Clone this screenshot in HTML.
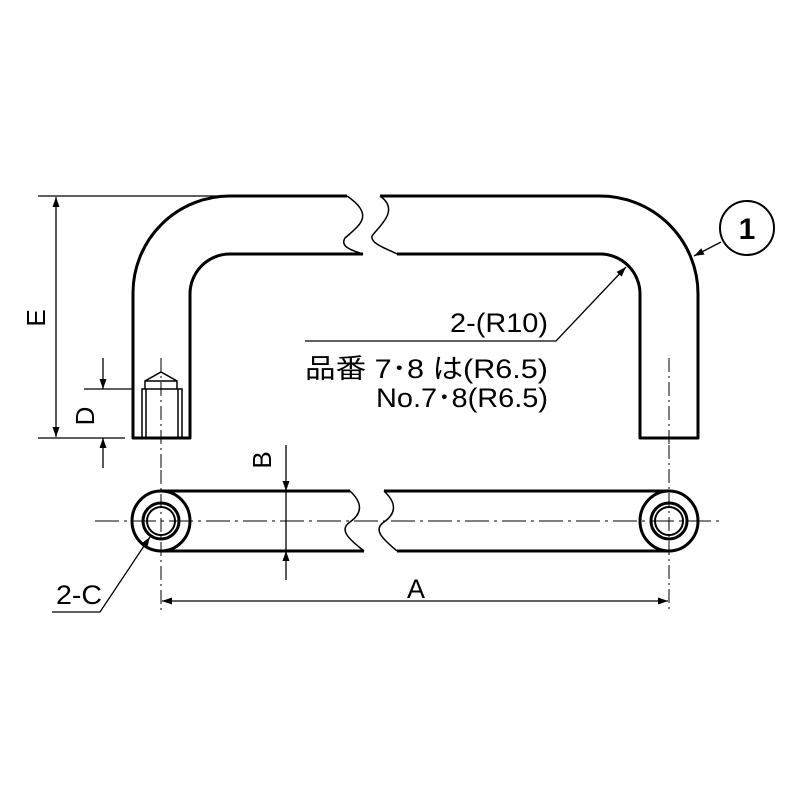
<!DOCTYPE html>
<html><head><meta charset="utf-8"><style>html,body{margin:0;padding:0;background:#fff}</style></head>
<body>
<svg width="800" height="800" viewBox="0 0 800 800" xmlns="http://www.w3.org/2000/svg" font-family="'Liberation Sans','Noto Sans CJK JP',sans-serif">
<defs>
<marker id="ar" viewBox="0 0 10 10" refX="10" refY="5" markerWidth="16" markerHeight="10" markerUnits="userSpaceOnUse" orient="auto-start-reverse"><path d="M0,1.5 L10,5 L0,8.5 Z" fill="#000"/></marker>
</defs>
<g fill="none" stroke="#000" stroke-width="3" stroke-linejoin="round">
<path d="M347,196 L230,196 A97,97 0 0 0 133,293 L133,438 L190,438 L190,294 A40,40 0 0 1 230,254 L363,254"/>
<path d="M380,196 L600,196 A98,98 0 0 1 698,294 L698,438 L640,438 L640,294 A40,40 0 0 0 600,254 L397,254"/>
</g>
<g fill="none" stroke="#000" stroke-width="1.5">
<path d="M347,196 C375,215 360,225 345,238 C340,246 350,250 363,254"/>
<path d="M380,196 C400,210 380,225 372,236 C370,244 390,250 397,254"/>
</g>
<g fill="none" stroke="#000" stroke-width="1.5">
<path d="M142,438 L142,389 L182,389 L182,438"/>
<path d="M146,438 L146,389 M178,438 L178,389"/>
<path d="M145,389 L145,381 L161,372 L177,381 L177,389 M145,381 L177,381"/>
<path d="M161,358 L161,470" stroke-dasharray="14,4,2,4" stroke-width="1"/>
<path d="M669,358 L669,445" stroke-dasharray="14,4,2,4" stroke-width="1"/>
</g>
<g stroke="#000" stroke-width="1.3" fill="none">
<line x1="38" y1="196" x2="230" y2="196"/>
<line x1="38" y1="438" x2="125" y2="438"/>
<line x1="56" y1="197" x2="56" y2="437" marker-start="url(#ar)" marker-end="url(#ar)"/>
<line x1="84" y1="389" x2="133" y2="389"/>
<line x1="103" y1="358" x2="103" y2="389" marker-end="url(#ar)"/>
<line x1="103" y1="468" x2="103" y2="438" marker-end="url(#ar)"/>
<polyline points="305,341 556,341 626,267" marker-end="url(#ar)"/>
<line x1="721" y1="242" x2="694" y2="256" marker-end="url(#ar)"/>
<circle cx="747" cy="228" r="27" stroke-width="2"/>
</g>
<text x="36" y="318" font-size="26" text-anchor="middle" transform="rotate(-90 36 318)" dominant-baseline="central">E</text>
<text x="85" y="416" font-size="26" text-anchor="middle" transform="rotate(-90 85 416)" dominant-baseline="central">D</text>
<text x="747" y="239" font-size="30" font-weight="bold" text-anchor="middle">1</text>
<text x="548" y="332" font-size="27" text-anchor="end" textLength="98" lengthAdjust="spacingAndGlyphs">2-(R10)</text>
<text x="548" y="378" font-size="27" text-anchor="end" textLength="243" lengthAdjust="spacingAndGlyphs">品番 7･8 は(R6.5)</text>
<text x="548" y="407" font-size="27" text-anchor="end" textLength="172" lengthAdjust="spacingAndGlyphs">No.7･8(R6.5)</text>
<g fill="none" stroke="#000" stroke-width="3">
<line x1="161" y1="491" x2="350" y2="491"/>
<line x1="161" y1="551" x2="364" y2="551"/>
<line x1="384" y1="491" x2="669" y2="491"/>
<line x1="397" y1="551" x2="669" y2="551"/>
<ellipse cx="161" cy="521" rx="29" ry="30" fill="#fff"/>
<circle cx="161" cy="521" r="18"/>
<circle cx="161" cy="521" r="14" stroke-width="2"/>
<ellipse cx="669" cy="521" rx="29" ry="30" fill="#fff"/>
<circle cx="669" cy="521" r="18"/>
<circle cx="669" cy="521" r="14" stroke-width="2"/>
</g>
<g fill="none" stroke="#000" stroke-width="1.5">
<path d="M350,491 C365,505 360,515 350,522 C338,530 350,540 364,551"/>
<path d="M384,491 C399,505 394,515 384,522 C372,530 384,540 397,551"/>
</g>
<g stroke="#000" stroke-width="1" fill="none">
<line x1="95" y1="521" x2="722" y2="521" stroke-dasharray="24,5,3,5"/>
<line x1="161" y1="470" x2="161" y2="612" stroke-dasharray="14,4,2,4"/>
<line x1="669" y1="445" x2="669" y2="612" stroke-dasharray="14,4,2,4"/>
</g>
<g stroke="#000" stroke-width="1.3" fill="none">
<line x1="286" y1="445" x2="286" y2="491" marker-end="url(#ar)"/>
<line x1="286" y1="580" x2="286" y2="551" marker-end="url(#ar)"/>
<line x1="286" y1="491" x2="286" y2="551"/>
<line x1="162" y1="601" x2="668" y2="601" marker-start="url(#ar)" marker-end="url(#ar)"/>
<polyline points="52,612 100,612 150,537" marker-end="url(#ar)"/>
</g>
<text x="262" y="460" font-size="26" text-anchor="middle" transform="rotate(-90 262 460)" dominant-baseline="central">B</text>
<text x="416" y="598" font-size="27" text-anchor="middle" textLength="18" lengthAdjust="spacingAndGlyphs">A</text>
<text x="79" y="604" font-size="27" text-anchor="middle" textLength="46" lengthAdjust="spacingAndGlyphs">2-C</text>
</svg>
</body></html>
